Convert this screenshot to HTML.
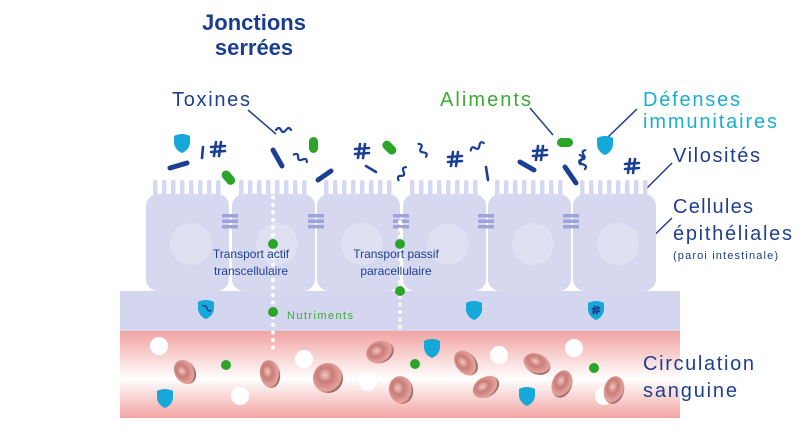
<!DOCTYPE html>
<html><head><meta charset="utf-8"><style>
html,body{margin:0;padding:0;background:#fff;}
svg{display:block;font-family:"Liberation Sans",sans-serif;}
</style></head><body>
<svg width="800" height="430" viewBox="0 0 800 430" xmlns="http://www.w3.org/2000/svg">
<defs>
<linearGradient id="blood" x1="0" y1="0" x2="0" y2="1">
<stop offset="0" stop-color="#f1a3a1"/><stop offset="0.55" stop-color="#ffffff"/><stop offset="1" stop-color="#f1a3a1"/>
</linearGradient>
<radialGradient id="rbc" cx="0.4" cy="0.4" r="0.7">
<stop offset="0" stop-color="#f6c6c0"/><stop offset="0.35" stop-color="#c87c78"/><stop offset="0.75" stop-color="#e7a39d"/><stop offset="1" stop-color="#3a2a2a"/>
</radialGradient>
<g id="shield"><path d="M-8,-7 Q0,-11 8,-7 L8,0 Q7,7 0,10 Q-7,7 -8,0 Z" fill="#16a8d8"/></g>
<g id="cell">
<rect x="0" y="14" width="83" height="97" rx="12" fill="#d5d8ef"/>
<g fill="#d5d8ef">
<rect x="7" y="0" width="4.5" height="18" rx="2"/><rect x="16" y="0" width="4.5" height="18" rx="2"/><rect x="25" y="0" width="4.5" height="18" rx="2"/><rect x="34" y="0" width="4.5" height="18" rx="2"/><rect x="43" y="0" width="4.5" height="18" rx="2"/><rect x="52" y="0" width="4.5" height="18" rx="2"/><rect x="61" y="0" width="4.5" height="18" rx="2"/><rect x="70" y="0" width="4.5" height="18" rx="2"/>
</g>
<circle cx="45" cy="64" r="21" fill="#dfe1f3"/>
</g>
<g id="jn" fill="#9ea4d8"><rect x="-8" y="0" width="16" height="3.5"/><rect x="-8" y="5.5" width="16" height="3.5"/><rect x="-8" y="11" width="16" height="3.5"/></g>
<g id="hash" stroke="#1a3f93" stroke-width="2.6" stroke-linecap="round" fill="none"><path d="M-2,-7 L-4,7 M3,-7 L1,7 M-7,-2 L7,-3 M-7,3 L7,2"/></g>
<path id="wave" d="M-6,-4 q3,-4 5,0 t5,0 t5,0" stroke="#1a3f93" stroke-width="2.2" fill="none" stroke-linecap="round"/>
</defs>

<rect x="120" y="291" width="560" height="40" fill="#d3d6ee"/>
<rect x="120" y="331" width="560" height="87" fill="url(#blood)"/>

<text x="254" y="30" text-anchor="middle" font-size="22" font-weight="bold" fill="#1a3d8f">Jonctions</text>
<text x="254" y="55" text-anchor="middle" font-size="22" font-weight="bold" fill="#1a3d8f">serrées</text>

<text x="172" y="106" font-size="20" fill="#1f3f8f" textLength="78">Toxines</text>
<text x="440" y="106" font-size="20" fill="#3daa35" textLength="91">Aliments</text>
<text x="643" y="106" font-size="20" fill="#1aaed0" textLength="97">Défenses</text>
<text x="643" y="128" font-size="20" fill="#1aaed0" textLength="134">immunitaires</text>
<text x="673" y="162" font-size="20" fill="#1f3f8f" textLength="87">Vilosités</text>
<text x="673" y="213" font-size="20" fill="#1f3f8f" textLength="80">Cellules</text>
<text x="673" y="240" font-size="20" fill="#1f3f8f" textLength="119">épithéliales</text>
<text x="673" y="259" font-size="11" fill="#1f3f8f" textLength="105">(paroi intestinale)</text>

<g stroke="#1f3f8f" stroke-width="1.5">
<line x1="248" y1="110" x2="276" y2="134"/>
<line x1="530" y1="108" x2="553" y2="135"/>
<line x1="637" y1="109" x2="607" y2="138"/>
<line x1="672" y1="163" x2="645" y2="190"/>
<line x1="672" y1="218" x2="644" y2="245"/>
</g>

<use href="#cell" x="146" y="180"/>
<use href="#cell" x="232" y="180"/>
<use href="#cell" x="317" y="180"/>
<use href="#cell" x="403" y="180"/>
<use href="#cell" x="488" y="180"/>
<use href="#cell" x="573" y="180"/>
<use href="#jn" x="230" y="214"/><use href="#jn" x="316" y="214"/><use href="#jn" x="401" y="214"/><use href="#jn" x="486" y="214"/><use href="#jn" x="571" y="214"/>

<line x1="273" y1="190" x2="273" y2="348" stroke="#fff" stroke-width="4" stroke-linecap="round" stroke-dasharray="0 7.5"/>
<line x1="400" y1="222" x2="400" y2="330" stroke="#fff" stroke-width="4" stroke-linecap="round" stroke-dasharray="0 7.5"/>
<g fill="#2aa52a">
<circle cx="273" cy="244" r="5"/><circle cx="400" cy="244" r="5"/><circle cx="400" cy="291" r="5"/><circle cx="273" cy="312" r="5"/>
<circle cx="226" cy="365" r="5"/><circle cx="415" cy="364" r="5"/><circle cx="594" cy="368" r="5"/>
</g>
<text x="251" y="258" text-anchor="middle" font-size="12" fill="#1f3f8f">Transport actif</text>
<text x="251" y="275" text-anchor="middle" font-size="12" fill="#1f3f8f">transcellulaire</text>
<text x="396" y="258" text-anchor="middle" font-size="12" fill="#1f3f8f">Transport passif</text>
<text x="396" y="275" text-anchor="middle" font-size="12" fill="#1f3f8f">paracellulaire</text>
<text x="287" y="319" font-size="11" fill="#3daa35" textLength="66">Nutriments</text>

<use href="#shield" x="206" y="309"/><use href="#shield" x="474" y="310"/><use href="#shield" x="596" y="310"/>
<g transform="translate(206 310) rotate(25)"><path d="M-5,-2 q2.5,-3 5,0 t5,0" stroke="#1a3f93" stroke-width="1.6" fill="none"/></g>
<g transform="translate(596 310) scale(0.6)"><path d="M-2,-7 L-4,7 M3,-7 L1,7 M-7,-2 L7,-3 M-7,3 L7,2" stroke="#1a3f93" stroke-width="3" fill="none"/></g>

<g fill="#fff">
<circle cx="159" cy="346" r="9"/><circle cx="240" cy="396" r="9"/><circle cx="304" cy="359" r="9"/><circle cx="368" cy="382" r="9"/>
<circle cx="499" cy="355" r="9"/><circle cx="574" cy="348" r="9"/><circle cx="604" cy="396" r="9"/>
</g>
<g fill="url(#rbc)">
<ellipse cx="185" cy="372" rx="10" ry="13" transform="rotate(-35 185 372)"/>
<ellipse cx="270" cy="374" rx="10" ry="14" transform="rotate(-10 270 374)"/>
<ellipse cx="328" cy="378" rx="15" ry="15"/>
<ellipse cx="380" cy="352" rx="14" ry="11" transform="rotate(-20 380 352)"/>
<ellipse cx="401" cy="390" rx="12" ry="14" transform="rotate(-15 401 390)"/>
<ellipse cx="466" cy="363" rx="10" ry="14" transform="rotate(-40 466 363)"/>
<ellipse cx="486" cy="387" rx="14" ry="10" transform="rotate(-30 486 387)"/>
<ellipse cx="537" cy="364" rx="14" ry="10" transform="rotate(25 537 364)"/>
<ellipse cx="562" cy="384" rx="10" ry="14" transform="rotate(20 562 384)"/>
<ellipse cx="614" cy="390" rx="10" ry="14" transform="rotate(15 614 390)"/>
</g>
<use href="#shield" x="165" y="398"/><use href="#shield" x="432" y="348"/><use href="#shield" x="527" y="396"/>

<text x="643" y="370" font-size="20" fill="#1f3f8f" textLength="111">Circulation</text>
<text x="643" y="397" font-size="20" fill="#1f3f8f" textLength="94">sanguine</text>

<use href="#shield" x="182" y="143"/><use href="#shield" x="605" y="145"/>
<g stroke="#1a3f93" stroke-width="5" stroke-linecap="round">
<line x1="170" y1="168" x2="187" y2="163"/>
<line x1="273" y1="150" x2="282" y2="166"/>
<line x1="318" y1="180" x2="331" y2="171"/>
<line x1="520" y1="162" x2="534" y2="170"/>
<line x1="565" y1="167" x2="576" y2="183"/>
</g>
<g stroke="#1a3f93" stroke-width="2.6" stroke-linecap="round">
<line x1="203" y1="147" x2="202" y2="158"/>
<line x1="366" y1="166" x2="376" y2="172"/>
<line x1="486" y1="167" x2="488" y2="180"/>
</g>
<use href="#hash" x="218" y="149"/><use href="#hash" x="362" y="151"/><use href="#hash" x="455" y="159"/><use href="#hash" x="540" y="153"/><use href="#hash" x="632" y="166"/>
<use href="#wave" x="282" y="134"/><use href="#wave" x="297" y="161" transform="rotate(30 297 161)"/><use href="#wave" x="418" y="151" transform="rotate(60 418 151)"/>
<use href="#wave" x="405" y="177" transform="rotate(-60 405 177)"/><use href="#wave" x="478" y="151" transform="rotate(-30 478 151)"/><use href="#wave" x="586" y="160" transform="rotate(-70 586 160)"/><use href="#wave" x="578" y="162" transform="rotate(70 578 162)"/>
<g fill="#2aa52a">
<rect x="309" y="137" width="9" height="16" rx="4.5"/>
<rect x="385" y="140" width="9" height="16" rx="4.5" transform="rotate(-45 389 148)"/>
<rect x="224" y="170" width="9" height="16" rx="4.5" transform="rotate(-40 228 178)"/>
<rect x="557" y="138" width="16" height="9" rx="4.5"/>
</g>
</svg>
</body></html>
